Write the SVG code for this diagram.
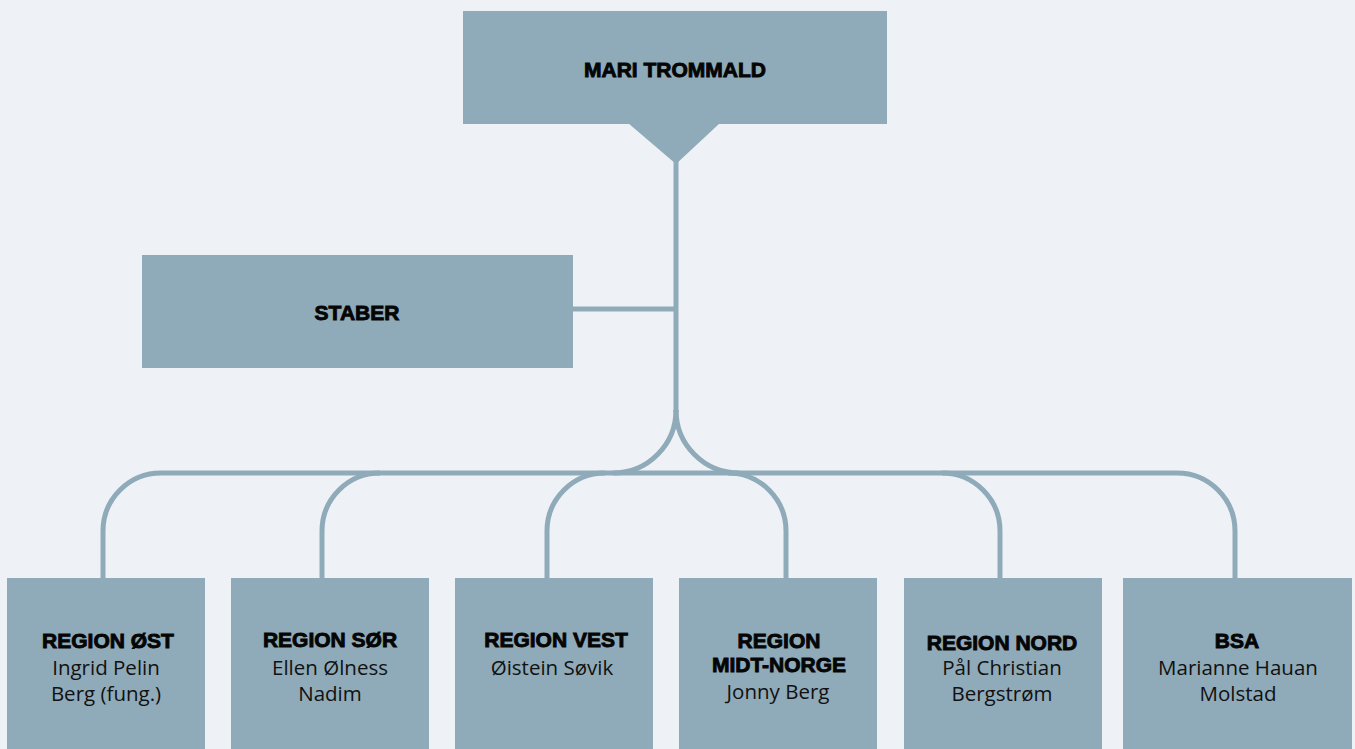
<svg xmlns="http://www.w3.org/2000/svg" width="1355" height="749" viewBox="0 0 1355 749">
<style>
.box{fill:#8FAAB8;}
.ln{fill:none;stroke:#8FAAB8;stroke-width:5;}
.t{font-family:"Liberation Sans",Arial,sans-serif;font-weight:700;font-size:21px;fill:#050505;text-anchor:middle;stroke:#050505;stroke-width:0.9;}
.n{font-family:"Open Sans","Noto Sans",sans-serif;font-size:20.5px;fill:#111;text-anchor:middle;}
</style>
<rect width="1355" height="749" fill="#EEF2F6"/>
<g id="connectors">
<line class="ln" x1="676" y1="158" x2="676" y2="412"/>
<line class="ln" x1="572" y1="309" x2="678" y2="309"/>
<path class="ln" d="M676,410 A63,63 0 0 1 613,473"/>
<path class="ln" d="M676,410 A63,63 0 0 0 739,473"/>
<path class="ln" d="M161,473 H1177"/>
<path class="ln" d="M161,473 A58,58 0 0 0 103,531 V579"/>
<path class="ln" d="M380,473 A58,58 0 0 0 322,531 V579"/>
<path class="ln" d="M605,473 A58,58 0 0 0 547,531 V579"/>
<path class="ln" d="M728,473 A58,58 0 0 1 786,531 V579"/>
<path class="ln" d="M942,473 A58,58 0 0 1 1000,531 V579"/>
<path class="ln" d="M1177,473 A58,58 0 0 1 1235,531 V579"/>
</g>
<g id="mari-trommald">
<rect class="box" x="463" y="11" width="424" height="113"/>
<polygon class="box" points="628,123 720,123 676,164"/>
<text class="t" x="675" y="77">MARI TROMMALD</text>
</g>
<g id="staber">
<rect class="box" x="142" y="255" width="431" height="113"/>
<text class="t" x="357" y="320">STABER</text>
</g>
<g id="region-ost">
<rect class="box" x="7" y="578" width="198" height="171"/>
<text class="t" x="108" y="648">REGION ØST</text>
<text class="n" x="106" y="675">Ingrid Pelin</text>
<text class="n" x="106" y="701">Berg (fung.)</text>
</g>
<g id="region-sor">
<rect class="box" x="231" y="578" width="198" height="171"/>
<text class="t" x="330" y="647">REGION SØR</text>
<text class="n" x="330" y="675">Ellen Ølness</text>
<text class="n" x="330" y="701">Nadim</text>
</g>
<g id="region-vest">
<rect class="box" x="455" y="578" width="198" height="171"/>
<text class="t" x="556" y="647">REGION VEST</text>
<text class="n" x="552" y="675">Øistein Søvik</text>
</g>
<g id="region-midt-norge">
<rect class="box" x="679" y="578" width="198" height="171"/>
<text class="t" x="779" y="648">REGION</text>
<text class="t" x="779" y="672">MIDT-NORGE</text>
<text class="n" x="778" y="699">Jonny Berg</text>
</g>
<g id="region-nord">
<rect class="box" x="904" y="578" width="198" height="171"/>
<text class="t" x="1002" y="650">REGION NORD</text>
<text class="n" x="1002" y="675">Pål Christian</text>
<text class="n" x="1002" y="701">Bergstrøm</text>
</g>
<g id="bsa">
<rect class="box" x="1123" y="578" width="229" height="171"/>
<text class="t" x="1237" y="648">BSA</text>
<text class="n" x="1238" y="675">Marianne Hauan</text>
<text class="n" x="1238" y="701">Molstad</text>
</g>
</svg>
